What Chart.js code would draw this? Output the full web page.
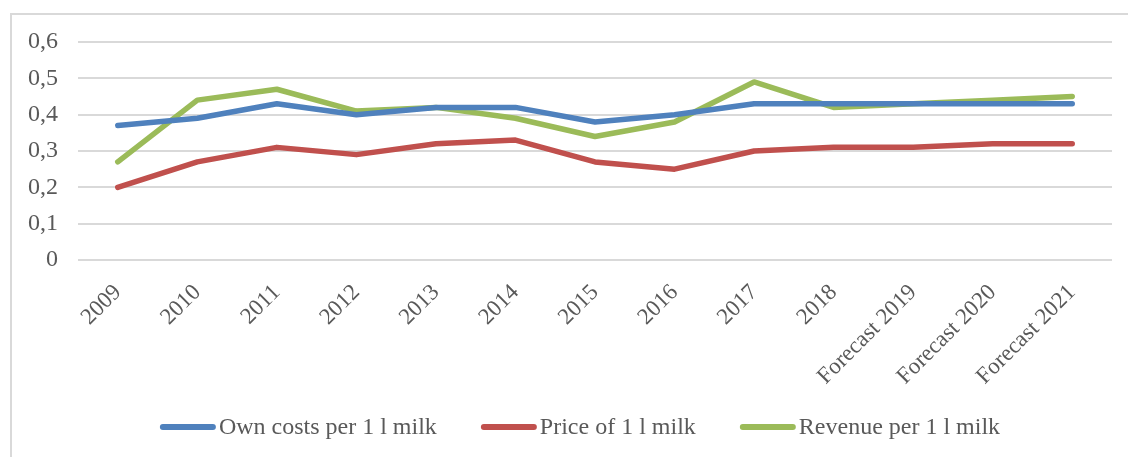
<!DOCTYPE html>
<html>
<head>
<meta charset="utf-8">
<script src="https://cdn.jsdelivr.net/npm/chart.js@4.4.1/dist/chart.umd.min.js"></script>
<style>
  html, body { margin: 0; padding: 0; background: #fff; overflow: hidden; }
  #wrap { position: relative; width: 1128px; height: 457px; }
  #frame { position: absolute; left: 10px; top: 13px; width: 1200px; height: 520px;
           border: 2px solid #d9d9d9; box-sizing: border-box; }
  canvas { position: absolute; left: 0; top: 0; }
</style>
</head>
<body>
<div id="wrap">
  <div id="frame"></div>
  <canvas id="c" width="1128" height="457"></canvas>
</div>
<script>
const years = ['2009', '2010', '2011', '2012', '2013', '2014', '2015', '2016', '2017', '2018',
               'Forecast 2019', 'Forecast 2020', 'Forecast 2021'];
const ownCosts = [0.37, 0.39, 0.43, 0.40, 0.42, 0.42, 0.38, 0.40, 0.43, 0.43, 0.43, 0.43, 0.43];
const milkPrice = [0.20, 0.27, 0.31, 0.29, 0.32, 0.33, 0.27, 0.25, 0.30, 0.31, 0.31, 0.32, 0.32];
const revenue = [0.27, 0.44, 0.47, 0.41, 0.42, 0.39, 0.34, 0.38, 0.49, 0.42, 0.43, 0.44, 0.45];
const yTicks = [0, 0.1, 0.2, 0.3, 0.4, 0.5, 0.6];

const serif = "'Liberation Serif', 'Times New Roman', serif";
const textGray = '#595959';

function series(label, data, color) {
  return {
    label, data,
    borderColor: color, backgroundColor: color,
    borderWidth: 5.5, pointRadius: 0, pointHoverRadius: 0,
    borderCapStyle: 'round', borderJoinStyle: 'round',
    tension: 0, fill: false
  };
}

// Bottom legend: short thick line swatch followed closely by the series name
const lineLegend = {
  id: 'lineLegend',
  afterDraw(chart, args, opts) {
    const ctx = chart.ctx;
    const sets = chart.data.datasets;
    ctx.save();
    ctx.font = opts.size + 'px ' + serif;
    ctx.textBaseline = 'middle';
    const widths = sets.map(d => ctx.measureText(d.label).width);
    const total = widths.reduce((a, w) => a + opts.swatch + opts.gap + w, 0) + opts.spacing * (sets.length - 1);
    let x = opts.centerX - total / 2;
    const y = opts.y;
    sets.forEach((d, i) => {
      ctx.strokeStyle = d.borderColor;
      ctx.lineWidth = 6;
      ctx.lineCap = 'round';
      ctx.beginPath();
      ctx.moveTo(x + 3, y);
      ctx.lineTo(x + opts.swatch - 3, y);
      ctx.stroke();
      x += opts.swatch + opts.gap;
      ctx.fillStyle = textGray;
      ctx.fillText(d.label, x, y + 1);
      x += widths[i] + opts.spacing;
    });
    ctx.restore();
  }
};

new Chart(document.getElementById('c'), {
  type: 'line',
  data: {
    labels: years,
    datasets: [
      series('Own costs per 1 l milk', ownCosts, '#4f81bd'),
      series('Price of 1 l milk', milkPrice, '#c0504d'),
      series('Revenue per 1 l milk', revenue, '#9bbb59')
    ]
  },
  plugins: [lineLegend],
  options: {
    responsive: false,
    animation: false,
    devicePixelRatio: 1,
    layout: { padding: { left: 10, right: 16, top: 42, bottom: 60 } },
    plugins: {
      tooltip: { enabled: false },
      legend: { display: false },
      lineLegend: { size: 24, swatch: 56, gap: 3, spacing: 44, centerX: 580, y: 427 }
    },
    scales: {
      x: {
        offset: true,
        grid: { display: false, drawTicks: false },
        border: { display: false },
        ticks: {
          color: textGray, font: { family: serif, size: 23 },
          minRotation: 45, maxRotation: 45, padding: 19, autoSkip: false
        },
        afterFit: (s) => { s.height = 137; }
      },
      y: {
        min: 0, max: 0.6,
        afterBuildTicks: (s) => { s.ticks = yTicks.map(v => ({ value: v })); },
        grid: { color: '#d9d9d9', lineWidth: 2, drawTicks: false },
        border: { display: false },
        ticks: {
          color: textGray, font: { family: serif, size: 24 }, padding: 20,
          callback: (v) => v === 0 ? '0' : v.toFixed(1).replace('.', ',')
        },
        afterFit: (s) => { s.width = 68; }
      }
    }
  }
});
</script>
</body>
</html>
